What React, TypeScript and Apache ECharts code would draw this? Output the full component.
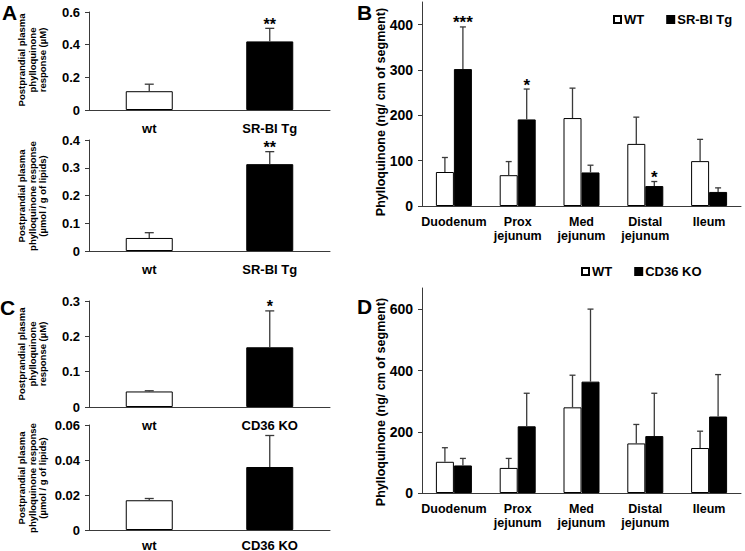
import React, { useEffect, useRef } from 'react';
import * as echarts from 'echarts';

const FONT = '"Liberation Sans", Arial, Helvetica, sans-serif';

// ---------- Panels A / C (two groups) ----------
const groupsTg = ['wt', 'SR-BI Tg'];
const groupsKO = ['wt', 'CD36 KO'];

const aTopValues = [0.115, 0.42];
const aTopErrTop = [0.158, 0.5];
const aTopStars = ['', '**'];

const aBotValues = [0.047, 0.313];
const aBotErrTop = [0.066, 0.358];
const aBotStars = ['', '**'];

const cTopValues = [0.044, 0.169];
const cTopErrTop = [0.046, 0.272];
const cTopStars = ['', '*'];

const cBotValues = [0.017, 0.036];
const cBotErrTop = [0.018, 0.054];
const cBotStars = ['', ''];

// ---------- Panels B / D (intestinal segments) ----------
const segments = ['Duodenum', 'Prox\njejunum', 'Med\njejunum', 'Distal\njejunum', 'Ileum'];

const bWT = [75, 68, 194, 137, 99];
const bWTErrTop = [107, 98, 260, 196, 147];
const bTg = [302, 191, 74, 44, 31];
const bTgErrTop = [395, 258, 90, 54, 40];
const bTgStars = ['***', '*', '', '*', ''];

const dWT = [102, 82, 280, 162, 147];
const dWTErrTop = [148, 113, 385, 224, 202];
const dKO = [90, 218, 364, 186, 250];
const dKOErrTop = [113, 326, 601, 326, 387];

const noStars = ['', '', '', '', ''];

const WHITE = { color: '#ffffff', borderColor: '#000000', borderWidth: 1 };
const BLACK = { color: '#000000', borderColor: '#000000', borderWidth: 1 };

function errSeries(
  idx: number,
  values: number[],
  tops: number[],
  stars: string[],
  offset: number,
  capHalf: number,
  starSize: number
) {
  return {
    type: 'custom',
    xAxisIndex: idx,
    yAxisIndex: idx,
    silent: true,
    z: 10,
    data: values.map((v, i) => [i, v, tops[i]]),
    renderItem: (params: any, api: any) => {
      const c = api.value(0);
      const v = api.value(1);
      const t = api.value(2);
      const p0 = api.coord([c, v]);
      const p1 = api.coord([c, t]);
      const x = p0[0] + offset;
      const st = { stroke: '#3a3a3a', lineWidth: 1.3 };
      const children: any[] = [
        { type: 'line', shape: { x1: x, y1: p0[1], x2: x, y2: p1[1] }, style: st },
        { type: 'line', shape: { x1: x - capHalf, y1: p1[1], x2: x + capHalf, y2: p1[1] }, style: st },
      ];
      const s = stars[params.dataIndex];
      if (s) {
        children.push({
          type: 'text',
          x,
          y: p1[1] - 4,
          style: {
            text: s,
            align: 'center',
            verticalAlign: 'middle',
            font: `bold ${starSize}px ${FONT}`,
            fill: '#000',
          },
        });
      }
      return { type: 'group', children };
    },
  };
}

export default function App() {
  const ref = useRef<HTMLDivElement>(null);

  useEffect(() => {
    if (!ref.current) return;
    const chart = echarts.init(ref.current, undefined, { renderer: 'svg' });

    const small = [
      { cats: groupsTg, vals: aTopValues, errs: aTopErrTop, stars: aTopStars, max: 0.6, interval: 0.2, top: 12, height: 98, lm: 11 },
      { cats: groupsTg, vals: aBotValues, errs: aBotErrTop, stars: aBotStars, max: 0.4, interval: 0.1, top: 140, height: 111, lm: 11 },
      { cats: groupsKO, vals: cTopValues, errs: cTopErrTop, stars: cTopStars, max: 0.3, interval: 0.1, top: 301, height: 106, lm: 11 },
      { cats: groupsKO, vals: cBotValues, errs: cBotErrTop, stars: cBotStars, max: 0.06, interval: 0.02, top: 425, height: 105, lm: 8 },
    ];

    const grids: any[] = [];
    const xAxes: any[] = [];
    const yAxes: any[] = [];
    const series: any[] = [];

    const axisLine = { show: true, lineStyle: { color: '#3a3a3a', width: 1 } };
    const tickLabel = (size: number) => ({
      color: '#000',
      fontWeight: 'bold',
      fontSize: size,
      fontFamily: FONT,
    });

    small.forEach((p, i) => {
      grids.push({ left: 89, top: p.top, width: 241, height: p.height, containLabel: false, outerBoundsMode: 'none' });
      xAxes.push({
        type: 'category',
        gridIndex: i,
        data: p.cats,
        axisLine,
        axisTick: { show: false },
        axisLabel: { ...tickLabel(13), margin: p.lm, lineHeight: 14 },
      });
      yAxes.push({
        type: 'value',
        gridIndex: i,
        min: 0,
        max: p.max,
        interval: p.interval,
        axisLine,
        axisTick: { show: true, length: 4, lineStyle: { color: '#3a3a3a' } },
        splitLine: { show: false },
        axisLabel: { ...tickLabel(13), margin: 9 },
      });
      series.push({
        type: 'bar',
        xAxisIndex: i,
        yAxisIndex: i,
        barWidth: 47,
        data: p.vals.map((v, k) => ({ value: v, itemStyle: k === 0 ? WHITE : BLACK })),
      });
      series.push(errSeries(i, p.vals, p.errs, p.stars, 0, 4.5, 16));
    });

    const big = [
      { wt: bWT, wtErr: bWTErrTop, other: bTg, otherErr: bTgErrTop, otherName: 'SR-BI Tg', stars: bTgStars, max: 450, top: 2, height: 204 },
      { wt: dWT, wtErr: dWTErrTop, other: dKO, otherErr: dKOErrTop, otherName: 'CD36 KO', stars: noStars, max: 670, top: 288, height: 205 },
    ];
    const bTicks = [[0, 100, 200, 300, 400], [0, 200, 400, 600]];

    big.forEach((p, j) => {
      const i = 4 + j;
      grids.push({ left: 422, top: p.top, width: 319, height: p.height, containLabel: false, outerBoundsMode: 'none' });
      xAxes.push({
        type: 'category',
        gridIndex: i,
        data: segments,
        axisLine,
        axisTick: { show: false },
        axisLabel: { ...tickLabel(12.5), lineHeight: 14, margin: 9, interval: 0, hideOverlap: false },
      });
      yAxes.push({
        type: 'value',
        gridIndex: i,
        min: 0,
        max: p.max,
        interval: j === 0 ? 100 : 200,
        axisLine,
        axisTick: { show: true, length: 4, lineStyle: { color: '#3a3a3a' }, customValues: bTicks[j] },
        splitLine: { show: false },
        axisLabel: { ...tickLabel(14), margin: 9, customValues: bTicks[j] },
      });
      series.push({
        type: 'bar',
        name: 'WT',
        xAxisIndex: i,
        yAxisIndex: i,
        barWidth: 18,
        barGap: '0%',
        itemStyle: WHITE,
        data: p.wt,
      });
      series.push({
        type: 'bar',
        name: p.otherName,
        xAxisIndex: i,
        yAxisIndex: i,
        barWidth: 18,
        barGap: '0%',
        itemStyle: BLACK,
        data: p.other,
      });
      series.push(errSeries(i, p.wt, p.wtErr, noStars, -9, 3, 17));
      series.push(errSeries(i, p.other, p.otherErr, p.stars, 9, 3, 17));
    });

    const legendBase = {
      icon: 'rect',
      itemWidth: 7,
      itemHeight: 7,
      itemGap: 22,
      selectedMode: false,
      orient: 'horizontal',
      textStyle: { color: '#000', fontWeight: 'bold', fontSize: 13, fontFamily: FONT, padding: [0, 0, 0, -2] },
    };

    const axisTitle = (text: string, x: number, y: number, size: number, lh: number) => ({
      type: 'text',
      x,
      y,
      rotation: Math.PI / 2,
      style: {
        text,
        align: 'center',
        verticalAlign: 'middle',
        font: `bold ${size}px ${FONT}`,
        lineHeight: lh,
        fill: '#000',
      },
    });
    const letter = (text: string, x: number, y: number) => ({
      type: 'text',
      x,
      y,
      style: { text, align: 'left', verticalAlign: 'top', font: `bold 21px ${FONT}`, fill: '#000' },
    });

    chart.setOption({
      animation: false,
      backgroundColor: '#ffffff',
      grid: grids,
      xAxis: xAxes,
      yAxis: yAxes,
      series,
      legend: [
        { ...legendBase, data: ['WT', 'SR-BI Tg'], left: 608, top: 8 },
        { ...legendBase, data: ['WT', 'CD36 KO'], left: 576, top: 260 },
      ],
      graphic: [
        letter('A', 2, 2),
        letter('B', 357, 2),
        letter('C', 0, 297),
        letter('D', 357, 296),
        axisTitle('Postprandial plasma\nphylloquinone\nresponse (µM)', 32, 60, 9.5, 10.5),
        axisTitle('Postprandial plasma\nphylloquinone response\n(µmol / g of lipids)', 32, 196, 9.5, 10.5),
        axisTitle('Postprandial plasma\nphylloquinone\nresponse (µM)', 32, 354, 9.5, 10.5),
        axisTitle('Postprandial plasma\nphylloquinone response\n(µmol / g of lipids)', 32, 478, 9.5, 10.5),
        axisTitle('Phylloquinone (ng/ cm of segment)', 381, 112, 12.5, 14),
        axisTitle('Phylloquinone (ng/ cm of segment)', 381, 402, 12.5, 14),
      ],
    });

    return () => chart.dispose();
  }, []);

  return (
    <div
      ref={ref}
      style={{ position: 'fixed', left: 0, top: 0, width: 745, height: 551, background: '#fff' }}
    />
  );
}
